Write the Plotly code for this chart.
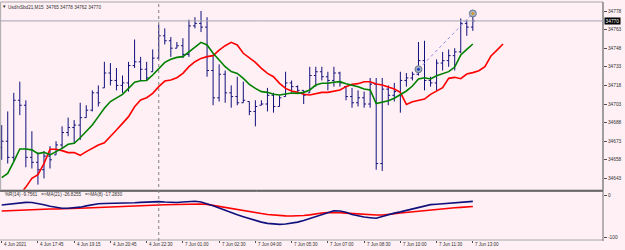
import pandas as pd
import plotly.graph_objects as go

# ---------------- data ----------------
symbol = "UsdInSbd21,M15"

fri = pd.date_range("2021-06-04 16:15", "2021-06-04 22:45", freq="15min").drop(pd.Timestamp("2021-06-04 21:00"))
mon = pd.date_range("2021-06-07 00:00", "2021-06-07 13:00", freq="15min")
bar_times = list(fri.append(mon))

opens = [34668, 34673, 34660, 34706, 34702, 34660, 34656, 34650, 34661, 34662,
         34670, 34680, 34684, 34686, 34692, 34698, 34712, 34716, 34728, 34722,
         34718, 34720, 34734, 34737, 34731, 34729, 34740, 34758, 34754, 34748,
         34750, 34743, 34766, 34768, 34765, 34730, 34708, 34727, 34712, 34709,
         34704, 34705, 34697, 34702, 34703, 34710, 34701, 34709, 34720, 34717,
         34714, 34712, 34726, 34729, 34725, 34722, 34728, 34717, 34709, 34704,
         34708, 34703, 34719, 34655, 34715, 34710, 34713, 34722, 34724, 34727,
         34738, 34722, 34720, 34736, 34738, 34742, 34745, 34768, 34765]
highs = [34686, 34697, 34712, 34721, 34706, 34681, 34664, 34665, 34669, 34673,
         34685, 34692, 34690, 34704, 34702, 34714, 34718, 34737, 34736, 34732,
         34726, 34737, 34755, 34741, 34737, 34747, 34767, 34764, 34757, 34753,
         34756, 34771, 34773, 34778, 34773, 34743, 34735, 34730, 34718, 34725,
         34721, 34705, 34706, 34706, 34716, 34712, 34710, 34729, 34722, 34718,
         34714, 34733, 34733, 34733, 34729, 34733, 34729, 34717, 34716, 34714,
         34713, 34724, 34724, 34724, 34718, 34720, 34729, 34728, 34729, 34753,
         34754, 34725, 34739, 34745, 34747, 34748, 34772, 34771, 34778]
lows = [34658, 34655, 34657, 34694, 34652, 34651, 34638, 34643, 34651, 34662,
        34667, 34677, 34671, 34674, 34692, 34697, 34701, 34716, 34718, 34714,
        34712, 34713, 34732, 34722, 34722, 34729, 34739, 34751, 34741, 34748,
        34740, 34741, 34764, 34761, 34725, 34702, 34705, 34704, 34700, 34702,
        34704, 34694, 34685, 34702, 34697, 34696, 34701, 34709, 34712, 34712,
        34703, 34712, 34717, 34722, 34714, 34717, 34717, 34706, 34700, 34701,
        34700, 34700, 34650, 34649, 34702, 34705, 34696, 34717, 34722, 34726,
        34714, 34717, 34714, 34730, 34733, 34730, 34744, 34758, 34762]
closes = [34673, 34660, 34706, 34702, 34660, 34656, 34650, 34661, 34658, 34670,
          34680, 34684, 34686, 34692, 34698, 34712, 34704, 34728, 34722, 34718,
          34720, 34734, 34737, 34731, 34724, 34740, 34758, 34754, 34748, 34750,
          34743, 34766, 34768, 34765, 34730, 34708, 34727, 34712, 34709, 34704,
          34706, 34697, 34701, 34703, 34710, 34701, 34708, 34720, 34717, 34714,
          34710, 34726, 34729, 34725, 34722, 34728, 34720, 34709, 34704, 34708,
          34703, 34719, 34655, 34715, 34710, 34713, 34722, 34724, 34727, 34738,
          34722, 34720, 34736, 34738, 34742, 34745, 34768, 34765, 34770]

ma_green = [34643.6, 34647, 34656.5, 34666.7, 34666.7, 34666, 34663, 34664, 34662, 34664.6,
            34667.2, 34670.5, 34671.3, 34675.8, 34680.7, 34686, 34692.8, 34699.5, 34705, 34707.6,
            34710.8, 34715.6, 34720.5, 34721.8, 34722, 34726.4, 34731.8, 34736.6, 34739, 34740.6,
            34741.2, 34745.2, 34749.2, 34752.7, 34750.6, 34743.9, 34738.5, 34733.1, 34729.1, 34727.7,
            34723.7, 34718.9, 34715.6, 34713, 34712.4, 34710.8, 34710.3, 34710.8, 34711.9, 34711.6,
            34712.4, 34714.3, 34718.3, 34719.7, 34719.7, 34720.5, 34721, 34719.4, 34718.3, 34717,
            34715.1, 34714.3, 34703.3, 34704.4, 34705.7, 34707.6, 34710.8, 34713.5, 34717.5, 34723.2,
            34724.2, 34723.2, 34725.8, 34727.2, 34729.1, 34732.8, 34742.5, 34747.1, 34751.4]

# shifted MA (extends 5 bars into the future)
ma_red = [34606, 34614, 34622, 34630, 34636, 34643, 34646, 34655, 34666.5, 34666.5,
          34665.4, 34663.8, 34663.8, 34661.6, 34664.6, 34667.2, 34670, 34671.8, 34676.7, 34682,
          34687.4, 34692.8, 34700.8, 34706.2, 34708.1, 34711.6, 34717, 34721.5, 34722.4, 34724.2,
          34727.7, 34733.1, 34737.1, 34739.8, 34741.2, 34742, 34746.5, 34750, 34752.7, 34750.6,
          34743.9, 34740.4, 34736.6, 34731.8, 34727.7, 34725, 34719.7, 34715.6, 34713.5, 34712.4,
          34710.8, 34710.3, 34711.6, 34712.4, 34712.4, 34713.5, 34714.3, 34717, 34718.9, 34719.4,
          34721, 34721, 34719.1, 34718.3, 34717, 34715.1, 34712.4, 34702.7, 34704.9, 34706,
          34707, 34710.8, 34713.5, 34716.1, 34723.7, 34724.5, 34723.4, 34727.2, 34728.3, 34729.9,
          34733.1, 34741.7, 34746.5, 34751.4]

wpr_ma8 = [-23.4, -21.5, -19.5, -18, -17.2, -17.5, -19.5, -23, -26.5, -29.5,
           -31, -31.2, -30.5, -28.5, -25.5, -22.5, -20.5, -19.8, -19.5, -19.8,
           -20, -19.5, -18.3, -17.2, -16.3, -15.6, -15.6, -16.5, -17.2, -17.5,
           -16.5, -15.6, -14.8, -16.5, -20, -25, -30.5, -36, -42, -46.5,
           -51, -55.5, -59.5, -63.5, -66.5, -68.2, -68.7, -68, -66, -63.5,
           -59.5, -55, -50.5, -45, -40.5, -37, -37.5, -40.6, -45.5, -49,
           -51.5, -53.2, -54.6, -50.5, -46, -42.5, -39.5, -36, -32, -28.5,
           -24.5, -22.5, -21.5, -20.5, -19.5, -18.5, -17.5, -16.3, -15]
wpr_ma21 = [-37.5, -36.7, -35.9, -35.1, -34.4, -33.6, -32.9, -32.8, -32.8, -32.8,
            -32.6, -32, -31.5, -31.1, -30.4, -29.7, -29, -28.2, -27.5, -26.7,
            -26.3, -25.8, -25.4, -24.9, -24.4, -23.9, -23.4, -22.9, -22.4, -22,
            -21.6, -21.3, -21, -21.2, -22, -24.5, -27.3, -29.5, -32, -34.5,
            -37, -39.3, -41.5, -43.5, -45.5, -47.2, -48.4, -48.8, -49.1, -49.2,
            -48, -46.5, -44, -42.3, -41.2, -40.6, -41.5, -42.5, -43.5, -44.8,
            -46.3, -46.8, -46.8, -46.8, -46, -44, -42, -40.6, -39, -37.5,
            -35.5, -34, -33, -32, -31, -30, -29, -28, -26.8]
lower_legend = "%R(14) -9.7561   =>MA(21) -26.8255   =>MA(8) -17.2830"

trade_bars = [69, 78]
trade_prices = [34731, 34776]

price_ticks = [34643, 34658, 34673, 34688, 34703, 34718, 34733, 34748, 34763, 34778]
osc_ticks = [0, -100]

# ---------------- figure ----------------
W, H = 625, 250
FONT = "Liberation Sans"
BG = "#FFF0F5"
BAR = "#10107c"
TXT = "#303030"
XR = 603 / W  # right edge of the plotting area (paper)


def py(y_img):
    return (H - y_img) / H


bars = list(range(len(closes)))
label_bars = list(range(0, len(bar_times), 6))
label_text = []
for b in label_bars:
    t = bar_times[b]
    label_text.append(f"{t.day} {t:%b %Y}" if b == 0 else f"{t.day} {t:%b %H:%M}")
sep_bars = [i for i in range(1, len(bar_times)) if bar_times[i].date() != bar_times[i - 1].date()]

fig = go.Figure()
fig.add_trace(go.Ohlc(x=bars, open=opens, high=highs, low=lows, close=closes,
                      increasing=dict(line=dict(color=BAR, width=1)),
                      decreasing=dict(line=dict(color=BAR, width=1)),
                      tickwidth=0.32, hoverinfo="skip", xaxis="x", yaxis="y"))
fig.add_trace(go.Scatter(x=list(range(len(ma_red))), y=ma_red, mode="lines",
                         line=dict(color="#ff0000", width=1.6), xaxis="x", yaxis="y", hoverinfo="skip"))
fig.add_trace(go.Scatter(x=bars, y=ma_green, mode="lines",
                         line=dict(color="#008000", width=1.6), xaxis="x", yaxis="y", hoverinfo="skip"))
fig.add_trace(go.Scatter(x=trade_bars, y=trade_prices, mode="lines+markers",
                         line=dict(color="#8c8ce8", width=1, dash="dot"),
                         marker=dict(size=7, color="#a9b2c4", line=dict(color="#687890", width=1)),
                         xaxis="x", yaxis="y", hoverinfo="skip"))
fig.add_trace(go.Scatter(x=trade_bars, y=trade_prices, mode="markers",
                         marker=dict(size=3, color=["#1f3fbf", "#d89a2a"]),
                         xaxis="x", yaxis="y", hoverinfo="skip"))
fig.add_trace(go.Scatter(x=bars, y=wpr_ma21, mode="lines",
                         line=dict(color="#ff0000", width=1.6), xaxis="x", yaxis="y2", hoverinfo="skip"))
fig.add_trace(go.Scatter(x=bars, y=wpr_ma8, mode="lines",
                         line=dict(color="#10107c", width=1.6), xaxis="x", yaxis="y2", hoverinfo="skip"))

shapes = [
    # main panel frame
    dict(type="rect", xref="paper", yref="paper", x0=0.001, x1=XR, y0=py(190), y1=py(2),
         line=dict(color="#a8a8a8", width=1)),
    # lower panel bottom
    dict(type="line", xref="paper", yref="paper", x0=0, x1=XR, y0=py(240), y1=py(240),
         line=dict(color="#a8a8a8", width=1)),
    # separator between panels
    dict(type="line", xref="paper", yref="paper", x0=0, x1=XR, y0=py(191), y1=py(191),
         line=dict(color="#000000", width=1)),
    # right scale line
    dict(type="line", xref="paper", yref="paper", x0=XR, x1=XR, y0=py(241), y1=py(2),
         line=dict(color="#707070", width=1)),
    # current price line
    dict(type="line", xref="paper", yref="y", x0=0, x1=XR, y0=closes[-1], y1=closes[-1],
         line=dict(color="#a4a4b4", width=1)),
]
for b in sep_bars:
    shapes.append(dict(type="line", xref="x", yref="paper", x0=b, x1=b, y0=py(241), y1=py(2),
                       line=dict(color="#808080", width=1, dash="dot")))

annotations = [
    dict(text="▾", xref="paper", yref="paper", x=1 / W, y=py(6), xanchor="left", yanchor="middle",
         showarrow=False, font=dict(size=5, color="#202020", family=FONT)),
    dict(text=f"{symbol}  {opens[-1]} {highs[-1]} {lows[-1]} {closes[-1]}",
         xref="paper", yref="paper", x=6 / W, y=py(7), xanchor="left", yanchor="middle",
         showarrow=False, font=dict(size=4.6, color=TXT, family=FONT)),
    dict(text=lower_legend, xref="paper", yref="paper", x=2.5 / W, y=py(194.5),
         xanchor="left", yanchor="middle", showarrow=False,
         font=dict(size=4.6, color=TXT, family=FONT)),
    dict(text=str(closes[-1]), xref="paper", yref="y", x=XR + 0.6 / W, y=closes[-1],
         xanchor="left", yanchor="middle", showarrow=False, bgcolor="#000000",
         borderpad=0.6, font=dict(size=4.8, color="#ffffff", family=FONT)),
]
for b, t in zip(label_bars, label_text):
    annotations.append(dict(text=t, xref="x", yref="paper", x=b, y=py(244.5), xanchor="left",
                            yanchor="middle", showarrow=False, xshift=0.5,
                            font=dict(size=4.5, color=TXT, family=FONT)))

fig.update_layout(
    width=W, height=H,
    margin=dict(l=0, r=0, t=0, b=0),
    paper_bgcolor=BG, plot_bgcolor=BG,
    showlegend=False,
    xaxis=dict(domain=[0, XR], range=[-0.28, 99.55], anchor="y2", rangeslider=dict(visible=False),
               showgrid=False, zeroline=False, showline=False, ticks="outside", ticklen=2,
               tickcolor="#505050", tickvals=label_bars, showticklabels=False, fixedrange=True),
    yaxis=dict(domain=[py(190), py(2)], range=[34633.65, 34785.26], side="right", anchor="x",
               showgrid=False, zeroline=False, showline=False, ticks="outside", ticklen=3,
               tickcolor="#505050", tickvals=price_ticks, ticktext=[str(v) for v in price_ticks],
               tickfont=dict(size=4.8, color=TXT, family=FONT), automargin=False),
    yaxis2=dict(domain=[py(240), py(191)], range=[-105.4, 9.37], side="right", anchor="x",
                showgrid=False, zeroline=False, showline=False, ticks="outside", ticklen=3,
                tickcolor="#505050", tickvals=osc_ticks, ticktext=[str(v) for v in osc_ticks],
                tickfont=dict(size=4.8, color=TXT, family=FONT), automargin=False),
    shapes=shapes,
    annotations=annotations,
)

fig.write_html("out.html")
